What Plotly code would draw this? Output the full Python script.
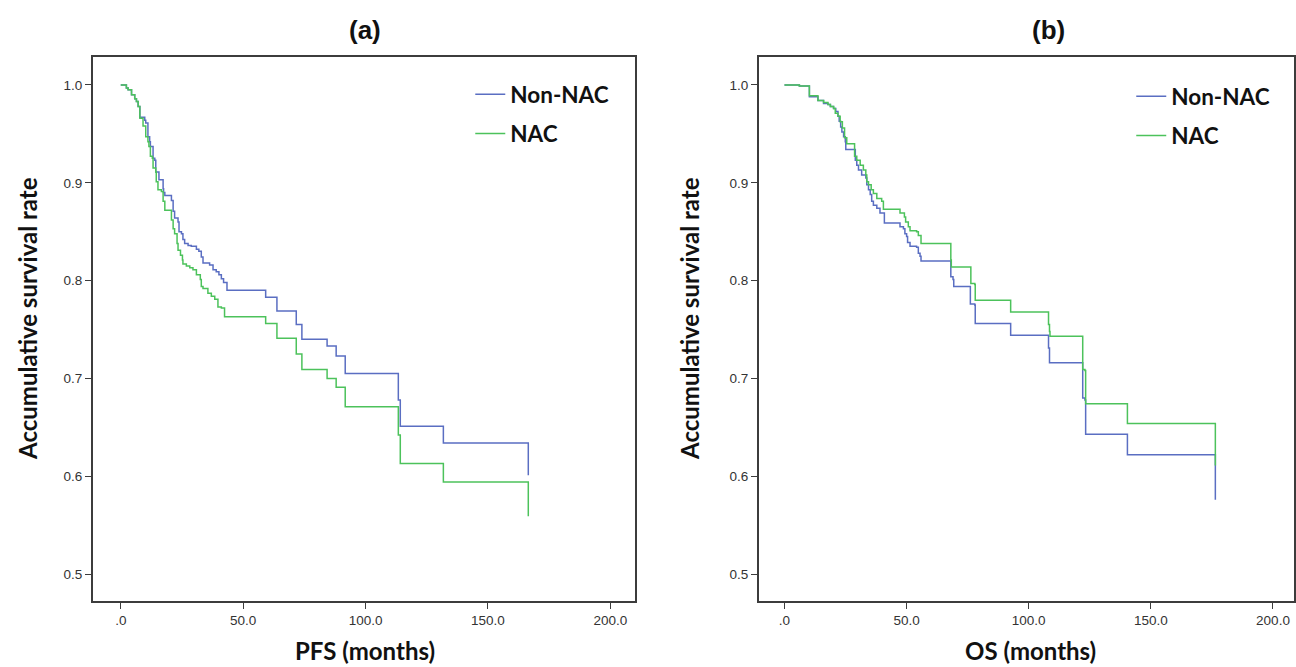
import plotly.graph_objects as go

# ---------------- data ----------------
# Panel (a): progression-free survival
pfs_non_nac_t = [0, 2.3, 3.0, 4.4, 5.7, 6.4, 7.1, 7.8, 9.8, 10.2, 11.1, 11.8, 12.1, 13.2, 13.9,
                 14.3, 15.6, 17.3, 17.5, 18.0, 20.7, 21.4, 22.0, 23.4, 23.8, 24.8, 25.4, 26.1,
                 27.5, 28.8, 30.9, 31.9, 32.9, 33.6, 36.3, 37.7, 39.0, 40.1, 41.1, 42.0, 43.4,
                 59.2, 63.8, 71.7, 74.0, 84.3, 88.0, 91.7, 113.4, 114.2, 131.8, 166.5]
pfs_non_nac_s = [1.0, 0.997, 0.995, 0.990, 0.986, 0.983, 0.978, 0.967, 0.964, 0.961, 0.947, 0.942,
                 0.937, 0.925, 0.923, 0.911, 0.903, 0.894, 0.890, 0.887, 0.882, 0.871, 0.864,
                 0.860, 0.850, 0.848, 0.842, 0.838, 0.836, 0.835, 0.832, 0.830, 0.824, 0.818,
                 0.816, 0.811, 0.809, 0.806, 0.802, 0.798, 0.790, 0.783, 0.769, 0.755, 0.740,
                 0.733, 0.723, 0.705, 0.678, 0.651, 0.634, 0.601]

pfs_nac_t = [0, 2.3, 3.0, 4.4, 5.7, 6.4, 7.1, 7.8, 9.1, 10.2, 11.1, 11.5, 12.1, 12.9, 13.2, 14.3,
             14.5, 15.2, 16.6, 17.3, 18.0, 20.7, 21.4, 22.0, 23.0, 23.4, 24.4, 25.2, 25.4, 26.8,
             28.2, 29.5, 30.9, 32.5, 32.9, 33.6, 35.6, 37.0, 38.4, 39.7, 41.1, 42.4, 59.2, 63.8,
             71.7, 74.0, 84.3, 88.0, 91.7, 113.4, 114.2, 131.8, 166.5]
pfs_nac_s = [1.0, 0.997, 0.995, 0.990, 0.986, 0.983, 0.978, 0.966, 0.958, 0.947, 0.942, 0.937,
             0.927, 0.925, 0.915, 0.911, 0.901, 0.893, 0.891, 0.881, 0.872, 0.862, 0.853, 0.848,
             0.838, 0.831, 0.826, 0.821, 0.817, 0.815, 0.813, 0.811, 0.806, 0.801, 0.794, 0.792,
             0.787, 0.784, 0.781, 0.773, 0.772, 0.763, 0.756, 0.741, 0.725, 0.709, 0.700, 0.691,
             0.671, 0.642, 0.613, 0.594, 0.559]

# Panel (b): overall survival
os_non_nac_t = [0, 6.1, 10.2, 13.7, 16.0, 17.8, 18.8, 20.1, 21.0, 21.9, 22.4, 23.0, 23.5, 24.2,
                24.9, 25.1, 29.0, 29.6, 30.3, 31.6, 33.3, 33.7, 34.4, 35.1, 35.7, 36.4, 37.8,
                39.1, 40.9, 47.3, 48.7, 49.3, 50.0, 50.4, 51.4, 54.1, 54.8, 55.5, 55.9, 68.1,
                69.0, 69.3, 76.1, 77.9, 78.1, 92.6, 108.1, 108.5, 122.1, 123.0, 123.3, 140.4, 176.4]
os_non_nac_s = [1.0, 0.999, 0.988, 0.984, 0.981, 0.980, 0.978, 0.976, 0.973, 0.968, 0.963, 0.957,
                0.952, 0.947, 0.942, 0.934, 0.923, 0.918, 0.913, 0.908, 0.905, 0.898, 0.893,
                0.888, 0.881, 0.877, 0.874, 0.869, 0.859, 0.855, 0.853, 0.848, 0.845, 0.839,
                0.835, 0.834, 0.828, 0.825, 0.820, 0.804, 0.801, 0.794, 0.776, 0.775, 0.756,
                0.744, 0.731, 0.716, 0.680, 0.678, 0.643, 0.622, 0.576]

os_nac_t = [0, 6.1, 10.2, 13.7, 16.0, 17.8, 18.8, 20.1, 20.8, 21.9, 22.8, 23.7, 24.6, 25.5, 28.7,
            29.6, 31.0, 32.3, 33.3, 33.7, 34.4, 35.5, 36.4, 37.8, 39.8, 40.5, 47.3, 49.1, 49.6,
            50.7, 51.4, 54.1, 54.8, 55.9, 68.1, 68.3, 76.3, 77.9, 78.1, 92.6, 108.1, 108.5, 108.7,
            122.1, 123.0, 123.3, 140.4, 176.4]
os_nac_s = [1.0, 0.999, 0.989, 0.984, 0.982, 0.980, 0.978, 0.976, 0.971, 0.968, 0.9625, 0.956,
            0.946, 0.940, 0.927, 0.923, 0.918, 0.913, 0.908, 0.901, 0.898, 0.893, 0.889, 0.884,
            0.881, 0.873, 0.869, 0.865, 0.860, 0.855, 0.851, 0.850, 0.846, 0.838, 0.821, 0.814,
            0.797, 0.796, 0.780, 0.768, 0.755, 0.748, 0.743, 0.709, 0.708, 0.674, 0.654, 0.611]

group_names = ["Non-NAC", "NAC"]
panel_titles = ["(a)", "(b)"]
x_titles = ["PFS (months)", "OS (months)"]
y_title = "Accumulative survival rate"
x_tickvals = [0, 50, 100, 150, 200]
x_ticktext = [".0", "50.0", "100.0", "150.0", "200.0"]
y_tickvals = [0.5, 0.6, 0.7, 0.8, 0.9, 1.0]
y_ticktext = ["0.5", "0.6", "0.7", "0.8", "0.9", "1.0"]

# ---------------- styling ----------------
W, H = 1296, 667
BLUE = "#5a6ec2"
GREEN = "#4cc25b"
FRAME = "#3c3c3c"
LABEL_FONT = "Lato, Open Sans, sans-serif"
TICK_FONT = "Liberation Sans, Arial, sans-serif"

fig = go.Figure()

series = [
    (pfs_non_nac_t, pfs_non_nac_s, group_names[0], BLUE, "x", "y", "legend", "a1"),
    (pfs_nac_t, pfs_nac_s, group_names[1], GREEN, "x", "y", "legend", "a2"),
    (os_non_nac_t, os_non_nac_s, group_names[0], BLUE, "x2", "y2", "legend2", "b1"),
    (os_nac_t, os_nac_s, group_names[1], GREEN, "x2", "y2", "legend2", "b2"),
]
for t, s, name, color, xa, ya, leg, grp in series:
    fig.add_trace(go.Scatter(
        x=t, y=s, mode="lines", name=name,
        line=dict(shape="hv", color=color, width=1.5),
        xaxis=xa, yaxis=ya, legend=leg, legendgroup=grp,
    ))

axis_common = dict(
    showgrid=False, zeroline=False, showline=True, mirror=True,
    linecolor=FRAME, linewidth=1.6, ticks="outside", ticklen=6, tickwidth=1.3,
    tickcolor=FRAME, tickfont=dict(family=TICK_FONT, size=13.5, color="#333333"),
)

legend_font = dict(family=LABEL_FONT, size=22.5, color="#111111", weight="bold")
y_dom = [66 / H, 610 / H]
fig.update_layout(
    width=W, height=H,
    margin=dict(l=0, r=0, t=0, b=0),
    paper_bgcolor="white", plot_bgcolor="white",
    xaxis=dict(axis_common, domain=[93 / W, 636 / W], range=[-11.4, 210.1],
               tickvals=x_tickvals, ticktext=x_ticktext, anchor="y"),
    yaxis=dict(axis_common, domain=y_dom, range=[0.4724, 1.0286],
               tickvals=y_tickvals, ticktext=y_ticktext, anchor="x"),
    xaxis2=dict(axis_common, domain=[760 / W, 1.0], range=[-10.5, 208.6],
                tickvals=x_tickvals, ticktext=x_ticktext, anchor="y2"),
    yaxis2=dict(axis_common, domain=y_dom, range=[0.4724, 1.0286],
                tickvals=y_tickvals, ticktext=y_ticktext, anchor="x2"),
    legend=dict(x=471 / W, y=(H - 73) / H, xanchor="left", yanchor="top",
                traceorder="grouped", tracegroupgap=7, bgcolor="rgba(0,0,0,0)",
                font=legend_font),
    legend2=dict(x=1133 / W, y=(H - 75) / H, xanchor="left", yanchor="top",
                 traceorder="grouped", tracegroupgap=7, bgcolor="rgba(0,0,0,0)",
                 font=legend_font),
    showlegend=True,
)

title_font = dict(family="Liberation Sans, Arial, sans-serif", size=26, color="#111111", weight="bold")
label_font = dict(family=LABEL_FONT, size=24, color="#111111", weight="bold")
annots = [
    dict(text=panel_titles[0], x=366 / W, y=(H - 30) / H, font=title_font),
    dict(text=panel_titles[1], x=1050 / W, y=(H - 30) / H, font=title_font),
    dict(text=x_titles[0], x=366 / W, y=(H - 650) / H, font=label_font),
    dict(text=x_titles[1], x=1032 / W, y=(H - 650) / H, font=label_font),
    dict(text=y_title, x=27 / W, y=(H - 318) / H, font=label_font, textangle=-90),
    dict(text=y_title, x=690 / W, y=(H - 318) / H, font=label_font, textangle=-90),
]
for a in annots:
    fig.add_annotation(xref="paper", yref="paper", xanchor="center", yanchor="middle",
                       showarrow=False, **a)

fig.write_html("out.html", config={"displayModeBar": False},
               post_script="document.body.style.margin='0';document.body.style.overflow='hidden';")
